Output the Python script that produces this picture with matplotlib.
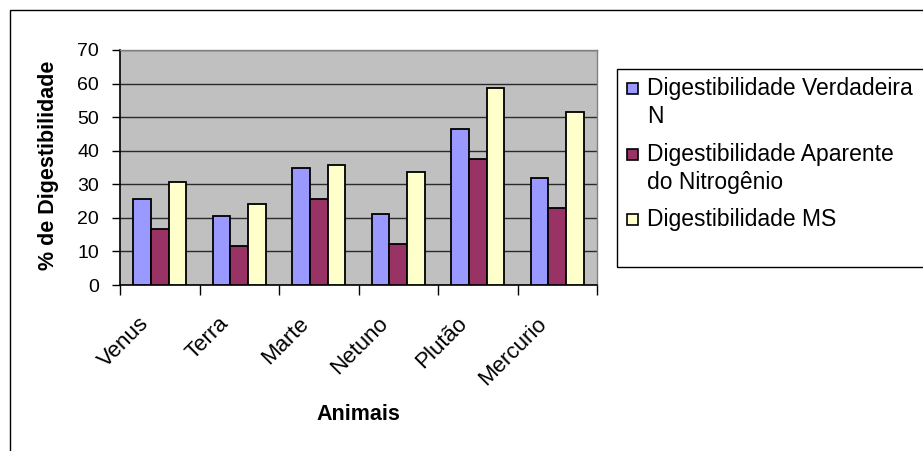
import matplotlib
matplotlib.use("Agg")
import matplotlib.pyplot as plt
import numpy as np
from matplotlib.patches import Rectangle
from matplotlib.transforms import ScaledTranslation

plt.rcParams['font.family'] = ['Liberation Sans', 'DejaVu Sans']

# Data
animais = ["Venus", "Terra", "Marte", "Netuno", "Plutão", "Mercurio"]
verdadeira_n = [25.6, 20.6, 34.8, 21.2, 46.5, 32.0]
aparente_n = [16.7, 11.7, 25.6, 12.3, 37.5, 23.0]
digest_ms = [30.8, 24.0, 35.7, 33.6, 58.8, 51.6]
series_labels = ["Digestibilidade Verdadeira\nN",
                 "Digestibilidade Aparente\ndo Nitrogênio",
                 "Digestibilidade MS"]
series_colors = ["#9999FF", "#993366", "#FFFFCC"]
y_ticks = [0, 10, 20, 30, 40, 50, 60, 70]

W, H, DPI = 923, 451, 100
fig = plt.figure(figsize=(W / DPI, H / DPI), dpi=DPI)

def px_box(x0, y0, x1, y1):
    return [x0 / W, 1 - y1 / H, (x1 - x0) / W, (y1 - y0) / H]

# Outer chart border
fig.patches.append(Rectangle((10 / W, -0.1), 1.2, 1 - 10 / H + 0.1,
                             transform=fig.transFigure, fill=False,
                             edgecolor="#000000", linewidth=1.0))

ax = fig.add_axes(px_box(120, 50, 597, 285))
ax.set_facecolor("#C0C0C0")

n = len(animais)
centers = np.arange(n) + 0.5
bw = 1 / 4.5
all_series = [verdadeira_n, aparente_n, digest_ms]
for k, (vals, col) in enumerate(zip(all_series, series_colors)):
    ax.bar(centers + (k - 1) * bw, vals, width=bw, color=col,
           edgecolor="black", linewidth=1.3, zorder=3)

ax.set_xlim(0, n)
ax.set_ylim(0, 70)
ax.set_yticks(y_ticks)
ax.set_yticklabels([str(v) for v in y_ticks], fontsize=14)
ax.yaxis.grid(True, color="#2a2a2a", linewidth=1.0, zorder=0)
ax.set_axisbelow(True)

# Category boundary ticks (major) and labels at centres (minor)
ax.set_xticks(np.arange(n + 1))
ax.set_xticklabels([])
ax.set_xticks(centers, minor=True)
ax.set_xticklabels(animais, minor=True, rotation=45, ha="right", va="top",
                   rotation_mode="anchor", fontsize=16)
ax.tick_params(axis="x", which="major", direction="out", length=7, width=1.0)
ax.tick_params(axis="x", which="minor", length=0, pad=0)
ax.tick_params(axis="y", direction="out", length=6, width=1.0, pad=9)

shift = ScaledTranslation(-21 / DPI, -28 / DPI, fig.dpi_scale_trans)
for lbl in ax.get_xticklabels(minor=True):
    lbl.set_transform(lbl.get_transform() + shift)

for side in ["left", "bottom"]:
    ax.spines[side].set_color("black")
    ax.spines[side].set_linewidth(1.2)
for side in ["top", "right"]:
    ax.spines[side].set_color("#808080")
    ax.spines[side].set_linewidth(1.0)

# Axis titles
fig.text(49 / W, 1 - 165 / H, "% de Digestibilidade", rotation=90,
         ha="center", va="center", fontsize=15.5, fontweight="bold")
fig.text(358 / W, 1 - 415 / H, "Animais", ha="center", va="center",
         fontsize=15.5, fontweight="bold")

# Legend box
fig.patches.append(Rectangle((617 / W, 1 - 267 / H), 1.0, (267 - 69) / H,
                             transform=fig.transFigure, fill=False,
                             edgecolor="#000000", linewidth=1.0))
first_baselines = [95, 160.5, 226]
line_step = 28
for lab, col, base in zip(series_labels, series_colors, first_baselines):
    fig.patches.append(Rectangle((627 / W, 1 - (base - 1) / H), 11 / W, 11 / H,
                                 transform=fig.transFigure, facecolor=col,
                                 edgecolor="black", linewidth=1.2))
    for i, line in enumerate(lab.split("\n")):
        fig.text(647 / W, 1 - (base + i * line_step) / H, line,
                 ha="left", va="baseline", fontsize=16.5)

fig.savefig("out.png", dpi=DPI)
